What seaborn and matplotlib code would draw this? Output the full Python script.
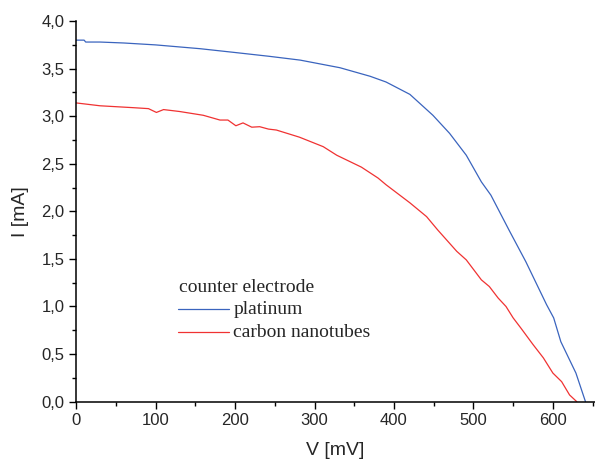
import numpy as np
import pandas as pd
import matplotlib
matplotlib.use('Agg')
import matplotlib.pyplot as plt
import seaborn as sns
from matplotlib.ticker import MultipleLocator, FuncFormatter

# platinum counter electrode
v_pt = [0, 10, 12, 30, 60, 100, 156, 200, 243, 282, 332, 370, 390, 420, 449,
        470, 491, 510, 522, 545, 566, 592, 601, 610, 629, 641]
i_pt = [3.80, 3.80, 3.78, 3.78, 3.77, 3.75, 3.71, 3.67, 3.63, 3.59, 3.51, 3.42,
        3.36, 3.23, 3.01, 2.82, 2.59, 2.31, 2.17, 1.80, 1.47, 1.02, 0.88, 0.63,
        0.30, 0.0]

# carbon nanotubes counter electrode
v_cnt = [0, 30, 72, 91, 101, 110, 130, 160, 181, 191, 201, 210, 221, 231, 242,
         252, 281, 302, 311, 328, 359, 380, 390, 420, 441, 455, 479, 491, 510,
         520, 531, 541, 550, 560, 575, 588, 600, 611, 621, 630]
i_cnt = [3.14, 3.11, 3.09, 3.08, 3.04, 3.07, 3.05, 3.01, 2.96, 2.96, 2.90, 2.93,
         2.885, 2.89, 2.865, 2.855, 2.78, 2.71, 2.68, 2.59, 2.465, 2.35, 2.28,
         2.09, 1.945, 1.805, 1.58, 1.49, 1.28, 1.21, 1.09, 1.00, 0.88, 0.77,
         0.60, 0.46, 0.30, 0.21, 0.07, 0.0]

df = pd.concat([
    pd.DataFrame({'V': v_pt, 'I': i_pt, 'electrode': 'platinum'}),
    pd.DataFrame({'V': v_cnt, 'I': i_cnt, 'electrode': 'carbon nanotubes'}),
])

sns.set_style('ticks')
plt.rcParams['font.family'] = ['Liberation Sans', 'DejaVu Sans']

fig = plt.figure(figsize=(5.95, 4.59), dpi=100)
ax = fig.add_axes([0.128, 0.125, 0.872, 0.829])

sns.lineplot(data=df, x='V', y='I', hue='electrode', sort=False,
             palette={'platinum': '#3a64be', 'carbon nanotubes': '#f03232'},
             linewidth=0.9, ax=ax, legend=False)

ax.set_xlim(0, 653)
ax.set_ylim(0, 4.0)
ax.xaxis.set_major_locator(MultipleLocator(100))
ax.xaxis.set_minor_locator(MultipleLocator(50))
ax.yaxis.set_major_locator(MultipleLocator(0.5))
ax.yaxis.set_minor_locator(MultipleLocator(0.25))
ax.yaxis.set_major_formatter(FuncFormatter(lambda y, p: f'{y:.1f}'.replace('.', ',')))
ax.tick_params(which='major', direction='out', length=5, width=1, labelsize=12, color='black')
ax.tick_params(which='minor', direction='out', length=3, width=1, color='black')
sns.despine(ax=ax)
for s in ['left', 'bottom']:
    ax.spines[s].set_linewidth(1.1)
    ax.spines[s].set_color('black')

ax.set_xlabel('V [mV]', fontsize=14, labelpad=10)
ax.set_ylabel('I [mA]', fontsize=14, labelpad=9)

# legend drawn like the original (title plus short lines)
serif = ['Liberation Serif', 'DejaVu Serif']
ax.text(130, 1.2, 'counter electrode', fontsize=14, family=serif, va='center')
ax.plot([128, 192], [0.97, 0.97], color='#3a64be', lw=0.9)
ax.text(198, 0.97, 'platinum', fontsize=14, family=serif, va='center')
ax.plot([128, 192], [0.73, 0.73], color='#f03232', lw=0.9)
ax.text(198, 0.73, 'carbon nanotubes', fontsize=14, family=serif, va='center')

fig.savefig('out.png', dpi=100)
